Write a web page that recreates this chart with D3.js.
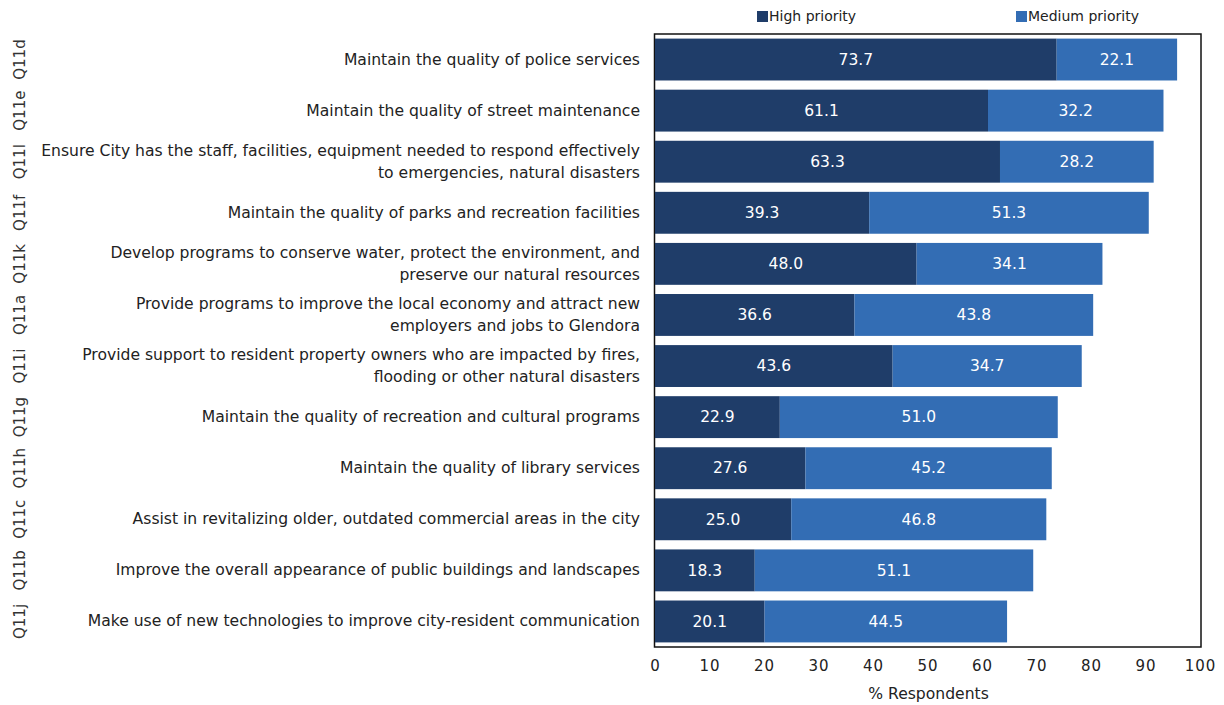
<!DOCTYPE html>
<html>
<head>
<meta charset="utf-8">
<script src="https://cdn.jsdelivr.net/npm/d3@7"></script>
<style>
  html, body { margin: 0; padding: 0; background: #fff; }
  svg { display: block; font-family: "DejaVu Sans", sans-serif; }
</style>
</head>
<body>
<svg id="chart" width="1224" height="705"></svg>
<script>
// Survey items, top to bottom
const codes = ["Q11d", "Q11e", "Q11l", "Q11f", "Q11k", "Q11a", "Q11i", "Q11g", "Q11h", "Q11c", "Q11b", "Q11j"];
const labels = [
  ["Maintain the quality of police services"],
  ["Maintain the quality of street maintenance"],
  ["Ensure City has the staff, facilities, equipment needed to respond effectively", "to emergencies, natural disasters"],
  ["Maintain the quality of parks and recreation facilities"],
  ["Develop programs to conserve water, protect the environment, and", "preserve our natural resources"],
  ["Provide programs to improve the local economy and attract new", "employers and jobs to Glendora"],
  ["Provide support to resident property owners who are impacted by fires,", "flooding or other natural disasters"],
  ["Maintain the quality of recreation and cultural programs"],
  ["Maintain the quality of library services"],
  ["Assist in revitalizing older, outdated commercial areas in the city"],
  ["Improve the overall appearance of public buildings and landscapes"],
  ["Make use of new technologies to improve city-resident communication"]
];
const highPriority   = [73.7, 61.1, 63.3, 39.3, 48.0, 36.6, 43.6, 22.9, 27.6, 25.0, 18.3, 20.1];
const mediumPriority = [22.1, 32.2, 28.2, 51.3, 34.1, 43.8, 34.7, 51.0, 45.2, 46.8, 51.1, 44.5];
const seriesNames = ["High priority", "Medium priority"];
const xTicks = [0, 10, 20, 30, 40, 50, 60, 70, 80, 90, 100];
const xTitle = "% Respondents";

const colors = ["#1f3d69", "#336db4"];

const svg = d3.select("#chart");
const plot = { left: 655, right: 1200, top: 34, bottom: 647 };

const x = d3.scaleLinear().domain([0, 100]).range([plot.left, plot.right]);
const y = d3.scaleBand().domain(d3.range(codes.length)).range([plot.top, plot.bottom]).paddingInner(0.18).paddingOuter(0.09);

// stacked rows
const rows = codes.map((c, i) => ({ i, high: highPriority[i], medium: mediumPriority[i] }));
const stack = d3.stack().keys(["high", "medium"])(rows);

// frame
svg.append("rect")
  .attr("x", plot.left - 0.5).attr("y", plot.top)
  .attr("width", plot.right - plot.left + 1.5).attr("height", plot.bottom - plot.top)
  .attr("fill", "none").attr("stroke", "#111").attr("stroke-width", 1.5);

stack.forEach((layer, k) => {
  const g = svg.append("g");
  g.selectAll("rect").data(layer).join("rect")
    .attr("x", d => x(d[0]))
    .attr("y", d => y(d.data.i))
    .attr("width", d => x(d[1]) - x(d[0]))
    .attr("height", y.bandwidth())
    .attr("fill", colors[k]);
  g.selectAll("text").data(layer).join("text")
    .attr("x", d => (x(d[0]) + x(d[1])) / 2)
    .attr("y", d => y(d.data.i) + y.bandwidth() / 2)
    .attr("dy", "0.34em")
    .attr("text-anchor", "middle")
    .attr("fill", "#fff")
    .attr("font-size", 15.5)
    .text(d => (d[1] - d[0]).toFixed(1));
});

// category labels
labels.forEach((lines, i) => {
  const cy = y(i) + y.bandwidth() / 2;
  const t = svg.append("text")
    .attr("text-anchor", "end")
    .attr("font-size", 15.6)
    .attr("fill", "#222");
  lines.forEach((ln, j) => {
    t.append("tspan")
      .attr("x", 640)
      .attr("y", cy + (j - (lines.length - 1) / 2) * 22)
      .attr("dy", "0.32em")
      .text(ln);
  });
});

// question codes along the left edge
codes.forEach((c, i) => {
  const cy = y(i) + y.bandwidth() / 2;
  svg.append("text")
    .attr("transform", `translate(25,${cy}) rotate(-90)`)
    .attr("text-anchor", "middle")
    .attr("font-size", 15)
    .attr("fill", "#333")
    .text(c);
});

// x axis
const xAxis = d3.axisBottom(x).tickValues(xTicks).tickSize(0).tickPadding(13);
const ax = svg.append("g").attr("transform", `translate(0,${plot.bottom})`).call(xAxis);
ax.select(".domain").remove();
ax.selectAll("text").attr("font-size", 15).attr("letter-spacing", 1).attr("fill", "#222").attr("font-family", "DejaVu Sans, sans-serif");

svg.append("text")
  .attr("x", (plot.left + plot.right) / 2 + 1).attr("y", 699)
  .attr("text-anchor", "middle").attr("font-size", 15.6).attr("fill", "#222")
  .text(xTitle);

// legend
const legendX = [757, 1016];
seriesNames.forEach((n, k) => {
  svg.append("rect").attr("x", legendX[k]).attr("y", 11).attr("width", 11).attr("height", 11).attr("fill", colors[k]);
  svg.append("text").attr("x", legendX[k] + 12).attr("y", 21).attr("font-size", 14).attr("fill", "#222").text(n);
});
</script>
</body>
</html>
